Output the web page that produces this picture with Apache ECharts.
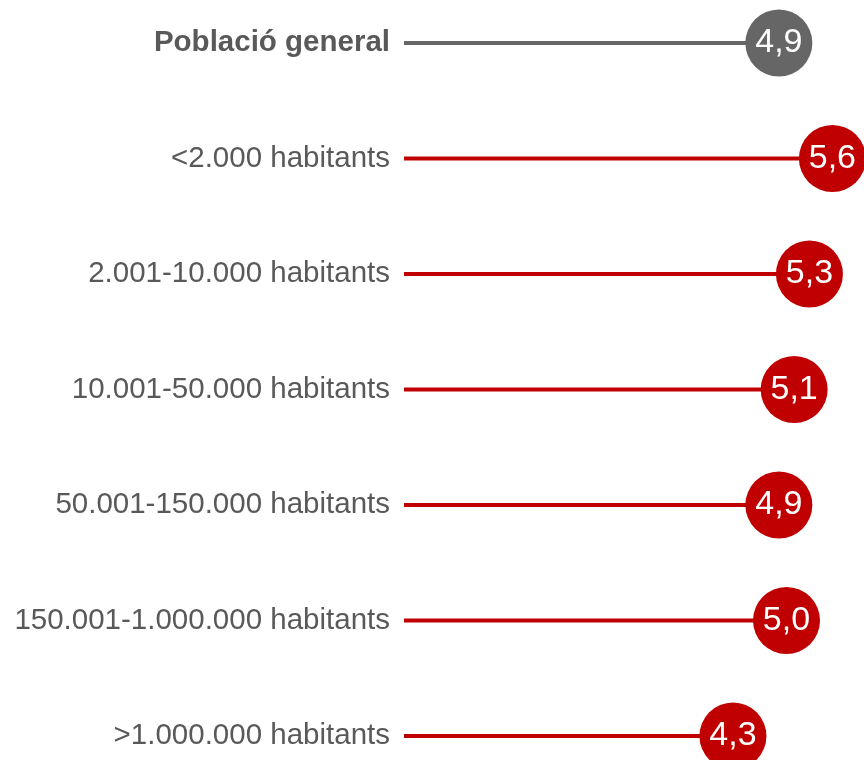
<!DOCTYPE html>
<html>
<head>
<meta charset="utf-8">
<script src="https://cdn.jsdelivr.net/npm/echarts@6/dist/echarts.min.js"></script>
<style>
html,body{margin:0;padding:0;background:#fff;}
#chart{width:864px;height:760px;}
</style>
</head>
<body>
<div id="chart"></div>
<script>
const categories = [
  'Població general',
  '<2.000 habitants',
  '2.001-10.000 habitants',
  '10.001-50.000 habitants',
  '50.001-150.000 habitants',
  '150.001-1.000.000 habitants',
  '>1.000.000 habitants'
];
const values = [4.9, 5.6, 5.3, 5.1, 4.9, 5.0, 4.3];
const GREY = '#666666';
const RED = '#C00000';
const colorOf = i => i === 0 ? GREY : RED;

const chart = echarts.init(document.getElementById('chart'), null, {renderer: 'canvas'});
chart.setOption({
  animation: false,
  backgroundColor: '#ffffff',
  grid: {left: 404, right: 1, top: 43, bottom: 24, containLabel: false},
  xAxis: {
    type: 'value', min: 0, max: 6, show: false,
    splitLine: {show: false}
  },
  yAxis: {
    type: 'category', data: categories, inverse: true, boundaryGap: false,
    axisLine: {show: false}, axisTick: {show: false}, splitLine: {show: false},
    axisLabel: {
      margin: 14,
      fontFamily: 'Liberation Sans, Arial, sans-serif',
      fontSize: 29.5,
      color: '#595959',
      formatter: (v, i) => i === 0 ? '{b|' + v + '}' : v,
      rich: {
        b: {fontWeight: 'bold', fontSize: 29.5, color: '#595959', fontFamily: 'Liberation Sans, Arial, sans-serif'}
      }
    }
  },
  series: [
    {
      type: 'bar',
      barWidth: 4,
      data: values.map((v, i) => ({value: v, itemStyle: {color: colorOf(i)}})),
      silent: true
    },
    {
      type: 'scatter',
      symbol: 'circle',
      symbolSize: 67,
      data: values.map((v, i) => ({value: [v, i], itemStyle: {color: colorOf(i), opacity: 1}})),
      label: {
        show: true,
        position: 'inside',
        color: '#ffffff',
        fontFamily: 'Liberation Sans, Arial, sans-serif',
        fontSize: 34,
        formatter: p => p.value[0].toFixed(1).replace('.', ',')
      },
      z: 3
    }
  ]
});
</script>
</body>
</html>
